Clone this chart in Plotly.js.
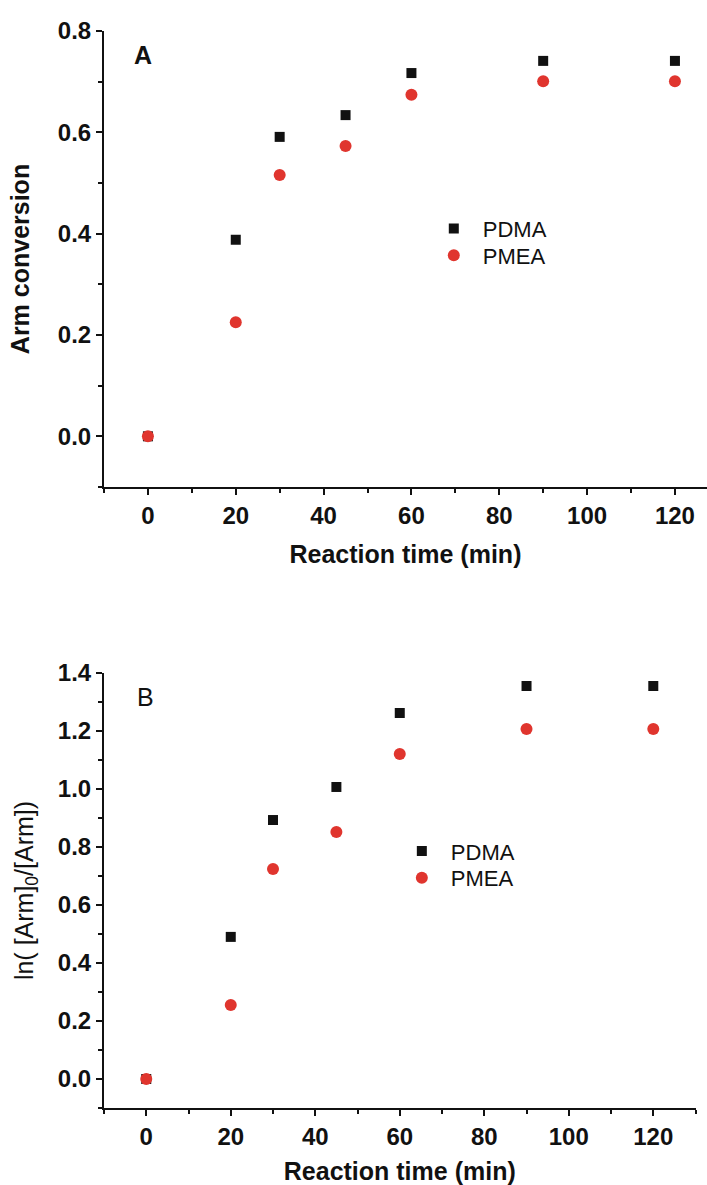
<!DOCTYPE html>
<html>
<head>
<meta charset="utf-8">
<script src="https://cdn.plot.ly/plotly-3.0.1.min.js"></script>
<style>html,body{margin:0;padding:0;background:#fff;}</style>
</head>
<body>
<div id="chart" style="width:707px;height:1185px;"></div>
<script>
// Data
const timeMin = [0, 20, 30, 45, 60, 90, 120];
const convPDMA = [0.0, 0.388, 0.591, 0.634, 0.717, 0.741, 0.741];
const convPMEA = [0.0, 0.225, 0.516, 0.573, 0.674, 0.701, 0.701];
const lnPDMA = [0.0, 0.49, 0.893, 1.007, 1.262, 1.355, 1.355];
const lnPMEA = [0.0, 0.255, 0.724, 0.852, 1.121, 1.207, 1.207];
const seriesNames = ['PDMA', 'PMEA'];
const panelLabels = ['A', 'B'];
const xTitle = 'Reaction time (min)';
const yTitleA = 'Arm conversion';
const yTitleB = 'ln( [Arm]<sub>0</sub>/[Arm])';

const FONT = 'Liberation Sans, Arial, Helvetica, sans-serif';
const BLACK = '#111111';
const RED = '#e0352e';

const sq = {symbol: 'square', size: 10, color: BLACK};
const ci = {symbol: 'circle', size: 12, color: RED};

const traces = [
  {x: timeMin, y: convPDMA, name: seriesNames[0], mode: 'markers', marker: sq, xaxis: 'x', yaxis: 'y', legend: 'legend'},
  {x: timeMin, y: convPMEA, name: seriesNames[1], mode: 'markers', marker: ci, xaxis: 'x', yaxis: 'y', legend: 'legend3'},
  {x: timeMin, y: lnPDMA, name: seriesNames[0], mode: 'markers', marker: sq, xaxis: 'x2', yaxis: 'y2', legend: 'legend2'},
  {x: timeMin, y: lnPMEA, name: seriesNames[1], mode: 'markers', marker: ci, xaxis: 'x2', yaxis: 'y2', legend: 'legend4'}
];

const tickFont = {family: FONT, size: 24, color: BLACK, weight: 'bold'};
const titleFont = {family: FONT, size: 25, color: BLACK, weight: 'bold'};

function xAxis(domain, range, anchor, standoff) {
  return {
    domain: domain, range: range, anchor: anchor,
    showgrid: false, zeroline: false, showline: true, linewidth: 2, linecolor: BLACK,
    ticks: 'outside', ticklen: 6, tickwidth: 2, tickcolor: BLACK,
    tick0: 0, dtick: 20, tickfont: tickFont,
    minor: {ticks: 'outside', ticklen: 4, tickwidth: 2, tickcolor: BLACK, dtick: 10, tick0: 0, showgrid: false},
    title: {text: xTitle, font: titleFont, standoff: standoff},
    fixedrange: true
  };
}
function yAxis(domain, range, anchor, title, tfont, standoff) {
  return {
    domain: domain, range: range, anchor: anchor,
    showgrid: false, zeroline: false, showline: true, linewidth: 2, linecolor: BLACK,
    ticks: 'outside', ticklen: 6, tickwidth: 2, tickcolor: BLACK,
    tick0: 0, dtick: 0.2, tickformat: '.1f', tickfont: tickFont,
    minor: {ticks: 'outside', ticklen: 4, tickwidth: 2, tickcolor: BLACK, dtick: 0.1, tick0: 0, showgrid: false},
    title: {text: title, font: tfont, standoff: standoff},
    fixedrange: true
  };
}
function leg(x, y) {
  return {x: x, y: y, xanchor: 'left', yanchor: 'top', bgcolor: 'rgba(0,0,0,0)',
          font: {family: FONT, size: 22, color: BLACK}, itemwidth: 48, tracegroupgap: 0};
}

const layout = {
  width: 707, height: 1185,
  margin: {l: 104, r: 0, t: 31, b: 77},
  paper_bgcolor: '#ffffff', plot_bgcolor: '#ffffff',
  font: {family: FONT, color: BLACK},
  showlegend: true,
  xaxis: xAxis([0, 1], [-10, 127.3], 'y', 18),
  yaxis: yAxis([0.5766, 1], [-0.1, 0.8], 'x', yTitleA, titleFont, 21),
  xaxis2: xAxis([0, 0.981], [-10, 130], 'y2', 16),
  yaxis2: yAxis([0, 0.4039], [-0.1, 1.4], 'x2', yTitleB, {family: FONT, size: 25, color: BLACK}, 17),
  legend: leg(0.532, 0.836),
  legend3: leg(0.532, 0.811),
  legend2: leg(0.479, 0.258),
  legend4: leg(0.479, 0.233),
  annotations: [
    {xref: 'x', yref: 'y', x: 0, y: 0.8, xanchor: 'left', yanchor: 'top', xshift: -16, yshift: -8,
     text: '<b>' + panelLabels[0] + '</b>', showarrow: false, font: {family: FONT, size: 25, color: BLACK}},
    {xref: 'x2', yref: 'y2', x: 0, y: 1.4, xanchor: 'left', yanchor: 'top', xshift: -11, yshift: -8,
     text: panelLabels[1], showarrow: false, font: {family: FONT, size: 25, color: BLACK}}
  ]
};

Plotly.newPlot('chart', traces, layout, {displayModeBar: false, staticPlot: true});
</script>
</body>
</html>
